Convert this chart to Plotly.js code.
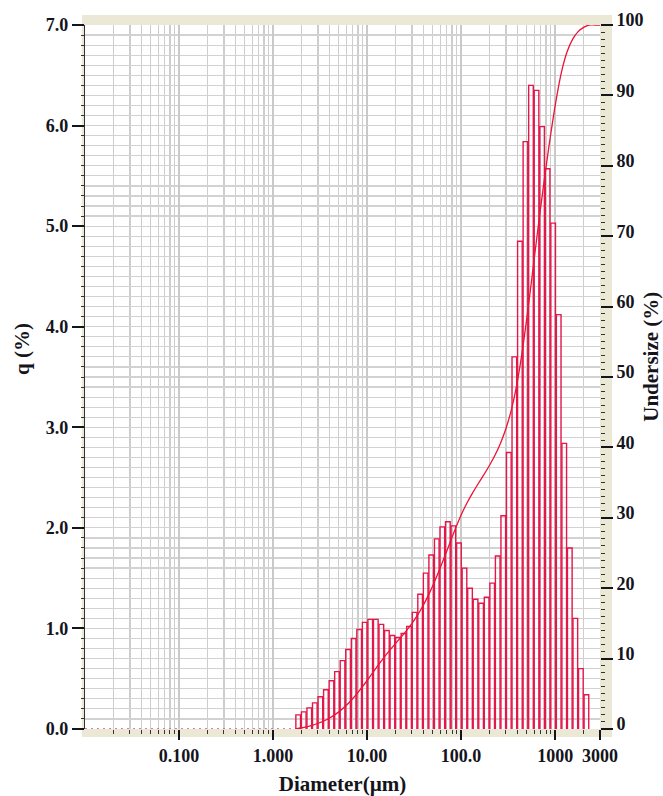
<!DOCTYPE html>
<html>
<head>
<meta charset="utf-8">
<script src="https://cdn.plot.ly/plotly-3.0.1.min.js"></script>
<style>
  html, body { margin: 0; padding: 0; background: #ffffff; }
  #chart { width: 663px; height: 796px; }
</style>
</head>
<body>
<div id="chart"></div>
<script>
// Channel boundaries of the size distribution (µm)
const diameterEdges = [
  1.729, 1.981, 2.269, 2.599, 2.976, 3.409, 3.905, 4.472, 5.122, 5.867,
  6.72, 7.697, 8.816, 10.097, 11.565, 13.246, 15.172, 17.377, 19.904, 22.797,
  26.111, 29.907, 34.255, 39.234, 44.938, 51.471, 58.953, 67.523, 77.339, 88.583,
  101.46, 116.21, 133.103, 152.453, 174.616, 200, 229.075, 262.376, 300.518, 344.206,
  394.244, 451.556, 517.2, 592.387, 678.504, 777.141, 890.116, 1019.52, 1167.73, 1337.48,
  1531.91, 1754.61, 2009.68, 2301.84, 2636.46, 3000
];

// Frequency q (%) of each channel (channel i spans edge i .. edge i+1)
const qPercent = [
  0.14, 0.17, 0.21, 0.26, 0.32, 0.39, 0.48, 0.57, 0.68, 0.79,
  0.90, 0.99, 1.06, 1.09, 1.09, 1.04, 0.98, 0.93, 0.91, 0.95,
  1.02, 1.16, 1.34, 1.55, 1.73, 1.89, 2.01, 2.06, 2.02, 1.85,
  1.60, 1.40, 1.29, 1.25, 1.31, 1.45, 1.72, 2.12, 2.75, 3.70,
  4.85, 5.84, 6.40, 6.35, 5.99, 5.57, 5.03, 4.12, 2.84, 1.80,
  1.10, 0.60, 0.34
];

// Cumulative undersize (%) at each channel boundary
const undersize = [
  0, 0.14, 0.31, 0.52, 0.78, 1.10, 1.49, 1.97, 2.54, 3.22,
  4.01, 4.91, 5.90, 6.96, 8.05, 9.14, 10.18, 11.16, 12.09, 13.00,
  13.95, 14.97, 16.13, 17.47, 19.02, 20.75, 22.64, 24.65, 26.71, 28.73,
  30.58, 32.18, 33.58, 34.87, 36.12, 37.43, 38.88, 40.60, 42.72, 45.47,
  49.17, 54.02, 59.86, 66.26, 72.61, 78.60, 84.17, 89.20, 93.32, 96.16,
  97.96, 99.06, 99.66, 100, 100, 100
];

// Empty channels below the first measured size
const emptyRange = [0.01, 1.729];
const emptyQ = [0, 0];

// Axis ticks
const xTickVals = [0.1, 1, 10, 100, 1000, 3000];
const xTickText = ['0.100', '1.000', '10.00', '100.0', '1000', '3000'];
const qTickVals = [0, 1, 2, 3, 4, 5, 6, 7];
const qTickText = ['0.0', '1.0', '2.0', '3.0', '4.0', '5.0', '6.0', '7.0'];

// Minor log ticks (2..9 within each decade)
const minorX = [];
for (let e = -2; e <= 3; e++) {
  for (let m = 2; m <= 9; m++) {
    const v = m * Math.pow(10, e);
    if (v < 3000) minorX.push(v);
  }
}

// Outline path for every histogram column, slightly inset so neighbours show double edges
const inset = 1.011;
const barX = [], barY = [];
qPercent.forEach((q, i) => {
  const a = diameterEdges[i] * inset, b = diameterEdges[i + 1] / inset;
  barX.push(a, a, b, b, null);
  barY.push(0, q, q, 0, null);
});

const serif = 'Liberation Serif, Times New Roman, serif';
const ink = '#14141c';
const beige = '#ebe8d6';
const tickFont = { family: serif, size: 18, color: ink, weight: 'bold' };
const titleFont = { family: serif, size: 21, color: ink, weight: 'bold' };

const traces = [
  {
    x: emptyRange, y: emptyQ, type: 'scatter', mode: 'lines',
    line: { color: '#e0508a', width: 1.5, dash: '2px,4px' },
    hoverinfo: 'skip', showlegend: false
  },
  {
    x: barX, y: barY, type: 'scatter', mode: 'lines',
    line: { color: '#e3174a', width: 1.4 },
    connectgaps: false, showlegend: false
  },
  {
    x: diameterEdges, y: undersize, type: 'scatter', mode: 'lines',
    yaxis: 'y2',
    line: { color: '#ee1236', width: 1.3, shape: 'spline', smoothing: 0.6 },
    showlegend: false
  }
];

const layout = {
  width: 663, height: 796,
  margin: { l: 85, r: 63, t: 25, b: 67 },
  paper_bgcolor: '#ffffff',
  plot_bgcolor: 'rgba(0,0,0,0)',
  showlegend: false,
  shapes: [
    { type: 'rect', xref: 'paper', yref: 'paper', layer: 'below',
      x0: -0.006, x1: 1.0233, y0: -0.0114, y1: 1.0142,
      fillcolor: beige, line: { width: 0 } },
    { type: 'rect', xref: 'paper', yref: 'paper', layer: 'below',
      x0: 0, x1: 1, y0: 0, y1: 1,
      fillcolor: '#ffffff', line: { width: 0 } }
  ],
  annotations: [
    { text: 'q (%)', xref: 'paper', yref: 'paper', x: -0.122, y: 0.54,
      xanchor: 'center', yanchor: 'middle', textangle: -90, showarrow: false, font: titleFont },
    { text: 'Undersize (%)', xref: 'paper', yref: 'paper', x: 1.1, y: 0.528,
      xanchor: 'center', yanchor: 'middle', textangle: -90, showarrow: false, font: titleFont }
  ],
  xaxis: {
    type: 'log',
    range: [-2, Math.log10(3000)],
    tickvals: xTickVals, ticktext: xTickText,
    ticks: 'outside', ticklen: 10, tickwidth: 2, tickcolor: ink,
    showgrid: true, gridcolor: '#c9c9c9', gridwidth: 1.3,
    minor: { tickvals: minorX, ticks: 'outside', ticklen: 4, tickwidth: 1, tickcolor: '#333',
             showgrid: true, gridcolor: '#cdcdcd', gridwidth: 1.3 },
    showline: false, zeroline: false,
    tickfont: tickFont,
    title: { text: 'Diameter(µm)', standoff: 12, font: titleFont }
  },
  yaxis: {
    range: [0, 7],
    tickvals: qTickVals, ticktext: qTickText,
    ticks: 'outside', ticklen: 12, tickwidth: 2, tickcolor: ink,
    showgrid: true, gridcolor: '#d2d2d2', gridwidth: 1.2,
    minor: { dtick: 0.1, ticks: 'outside', ticklen: 3, tickwidth: 1, tickcolor: '#333',
             showgrid: true, gridcolor: '#d2d2d2', gridwidth: 1.2 },
    showline: true, linecolor: '#333', linewidth: 1.2,
    zeroline: false,
    tickfont: tickFont
  },
  yaxis2: {
    overlaying: 'y', side: 'right',
    range: [0, 100], dtick: 10,
    ticks: 'outside', ticklen: 12, tickwidth: 2, tickcolor: ink,
    ticklabelshift: -5,
    minor: { dtick: 1, ticks: 'outside', ticklen: 4, tickwidth: 1, tickcolor: '#333', showgrid: false },
    showgrid: false, zeroline: false, showline: false,
    tickfont: tickFont
  }
};

Plotly.newPlot('chart', traces, layout, { displayModeBar: false, staticPlot: true });
</script>
</body>
</html>
